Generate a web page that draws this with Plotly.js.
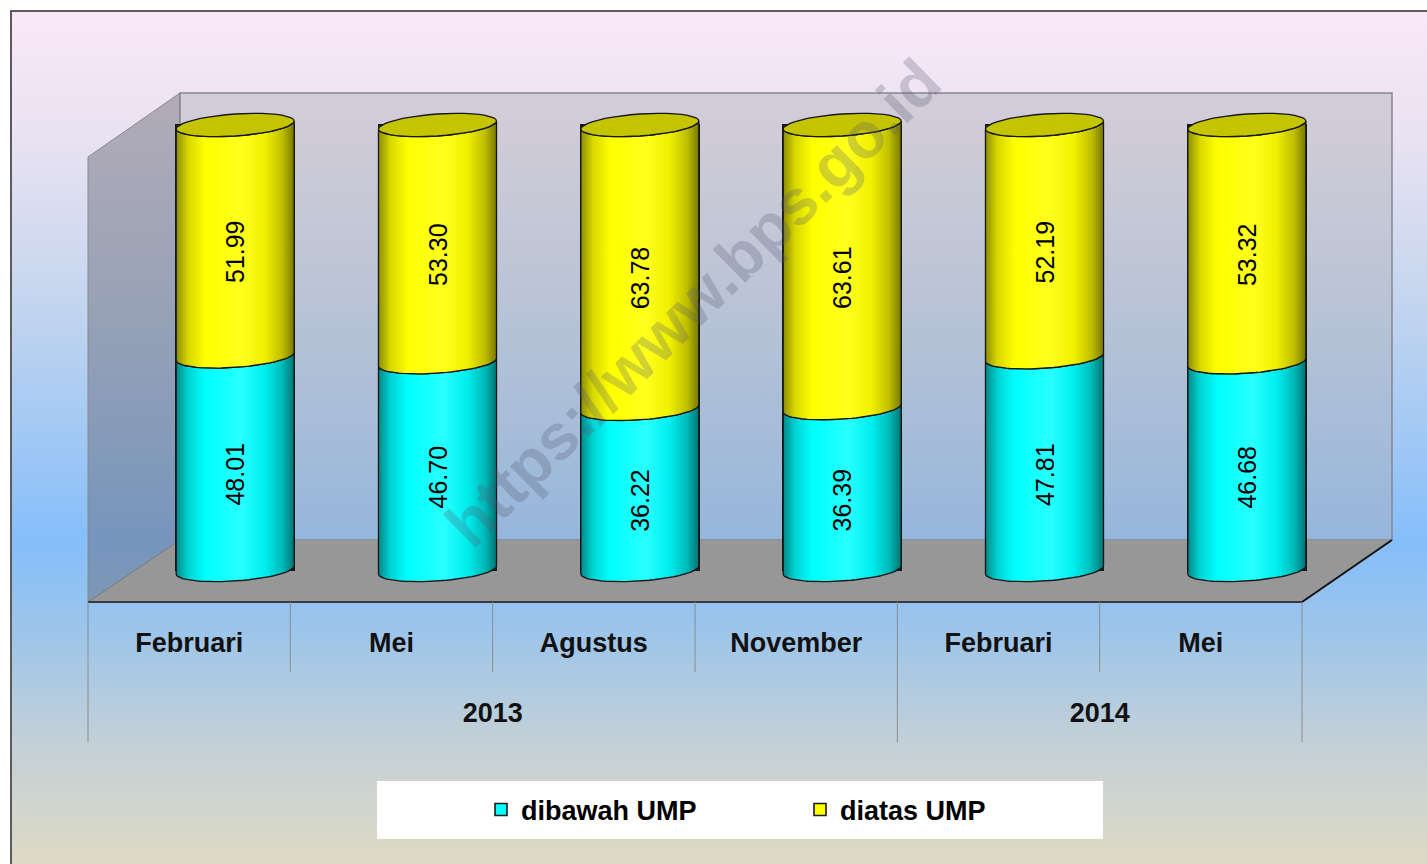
<!DOCTYPE html>
<html><head><meta charset="utf-8">
<script src="https://cdn.plot.ly/plotly-3.0.1.min.js"></script>
<style>
html,body{margin:0;padding:0;background:#fff;width:1427px;height:864px;overflow:hidden}
#bg{position:absolute;left:10px;top:10px;width:1417px;height:854px;border-left:2px solid #5c5c5c;border-top:2px solid #5c5c5c;box-sizing:border-box;
background:linear-gradient(to bottom, rgb(250,232,247) 0px, rgb(232,226,242) 130px, rgb(198,214,238) 280px, rgb(160,200,244) 430px, rgb(133,190,250) 530px, rgb(160,198,232) 630px, rgb(195,208,215) 730px, rgb(222,218,196) 854px);}
#chart{position:absolute;left:0;top:0;width:1427px;height:864px}
</style></head><body>
<div id="bg"></div><div id="chart"></div>
<script>
// ---- data ----
const years = ['2013','2013','2013','2013','2014','2014'];
const months = ['Februari','Mei','Agustus','November','Februari','Mei'];
const dibawahUMP = [48.01, 46.70, 36.22, 36.39, 47.81, 46.68];
const diatasUMP  = [51.99, 53.30, 63.78, 63.61, 52.19, 53.32];
const seriesNames = ['dibawah UMP', 'diatas UMP'];

// ---- styling / geometry helpers ----
const FONT = 'Liberation Sans, Arial, sans-serif';
const W = 1427, H = 864;
const px = v => v / W, py = v => 1 - v / H;
const BAR_HALF = 0.2917, ELL_H = 2.47, ELL_T = 0.9, N = 40;
const seriesColors = ['#00ffff', '#ffff00'];
const gradients = [
  [[0,'rgb(0,135,135)'],[0.1,'rgb(0,210,210)'],[0.25,'rgb(0,255,255)'],[0.55,'rgb(40,255,255)'],[0.75,'rgb(0,238,238)'],[0.9,'rgb(0,185,185)'],[1,'rgb(0,115,115)']],
  [[0,'rgb(140,140,0)'],[0.1,'rgb(215,215,0)'],[0.25,'rgb(255,255,0)'],[0.55,'rgb(255,255,30)'],[0.75,'rgb(240,240,0)'],[0.9,'rgb(190,190,0)'],[1,'rgb(120,120,0)']]
];
const topColor = '#c4c400';

function arc(xc, yc, from, to) {
  const xs = [], ys = [];
  for (let k = 0; k <= N; k++) {
    const th = from + (to - from) * k / N;
    xs.push(xc + BAR_HALF * Math.cos(th));
    ys.push(yc + ELL_H * Math.sin(th) + ELL_T * Math.cos(th));
  }
  return {x: xs, y: ys};
}

const nCat = months.length;
const idx = months.map((_, i) => i);
// year groups
const yearList = [], yearFirst = {}, yearLast = {};
years.forEach((y, i) => { if (!(y in yearFirst)) { yearFirst[y] = i; yearList.push(y); } yearLast[y] = i; });
const yearCenters = yearList.map(y => (yearFirst[y] + yearLast[y]) / 2);

const seriesVals = [dibawahUMP, diatasUMP];
const traces = [];

// front axes (labels only)
traces.push({type:'scatter', mode:'none', x:idx, y:dibawahUMP, xaxis:'x', yaxis:'y', showlegend:false, hoverinfo:'skip'});
traces.push({type:'scatter', mode:'none', x:yearCenters, y:yearCenters, xaxis:'x5', yaxis:'y5', showlegend:false, hoverinfo:'skip'});

// base stacked bars (legend + body)
seriesVals.forEach((vals, s) => {
  traces.push({type:'bar', x:[years, months], y:vals, name:seriesNames[s], xaxis:'x2', yaxis:'y2',
    width: 2*BAR_HALF, marker:{color:seriesColors[s], line:{color:'#1a1a1a', width:1.6}},
    textposition:'none', hoverinfo:'skip'});
});

// cylinder shading overlays
for (let i = 0; i < nCat; i++) {
  let base = 0;
  seriesVals.forEach((vals, s) => {
    const yb = base, yt = base + vals[i];
    const lo = arc(i, yb, Math.PI, 2*Math.PI);
    const up = arc(i, yt, 2*Math.PI, Math.PI);
    traces.push({type:'scatter', mode:'lines', xaxis:'x3', yaxis:'y3', cliponaxis:false,
      x: lo.x.concat(up.x, [lo.x[0]]), y: lo.y.concat(up.y, [lo.y[0]]),
      fill:'toself', fillcolor:seriesColors[s],
      fillgradient:{type:'horizontal', colorscale:gradients[s]},
      line:{color:'#151515', width:1.3}, showlegend:false, hoverinfo:'skip'});
    base = yt;
  });
  const tp = arc(i, base, 0, 2*Math.PI);
  traces.push({type:'scatter', mode:'lines', xaxis:'x3', yaxis:'y3', cliponaxis:false,
    x: tp.x, y: tp.y, fill:'toself', fillcolor:topColor,
    line:{color:'#151515', width:1.3}, showlegend:false, hoverinfo:'skip'});
}

// value labels
seriesVals.forEach((vals, s) => {
  traces.push({type:'bar', x:[years, months], y:vals, xaxis:'x4', yaxis:'y4', width:2*BAR_HALF,
    marker:{color:'rgba(0,0,0,0)', line:{width:0}}, texttemplate:'%{y:.2f}', textposition:'inside',
    insidetextanchor:'middle', textangle:-90, constraintext:'none',
    textfont:{family:FONT, size:25, color:'#000'}, showlegend:false, hoverinfo:'skip'});
});

const P = (pts) => pts.map((p, k) => (k ? 'L' : 'M') + px(p[0]).toFixed(5) + ' ' + py(p[1]).toFixed(5)).join(' ') + ' Z';
const L = (x0,y0,x1,y1,color,width) => ({type:'line', xref:'paper', yref:'paper', x0:px(x0), y0:py(y0), x1:px(x1), y1:py(y1), line:{color, width}, layer:'below'});

const x0d = 88, x1d = 1302;
const idxToPx = v => x0d + (v + 0.5) * (x1d - x0d) / nCat;
const shapes = [
  {type:'path', xref:'paper', yref:'paper', layer:'below', path:P([[88,157],[180,93],[180,540],[88,602]]), fillcolor:'rgba(100,100,112,0.45)', line:{color:'#8a8a8a', width:1}},
  {type:'path', xref:'paper', yref:'paper', layer:'below', path:P([[180,93],[1392,93],[1392,540],[180,540]]), fillcolor:'rgba(172,172,178,0.42)', line:{color:'#878790', width:1.5}},
  {type:'path', xref:'paper', yref:'paper', layer:'below', path:P([[88,602],[180,540],[1392,540],[1302,602]]), fillcolor:'#979797', line:{width:0}},
  L(88,602,180,540,'#7a7a7a',1),
  L(88,602,1302,602,'#3a3a3a',2),
  L(1302,602,1392,540,'#111111',2),
  {type:'rect', xref:'paper', yref:'paper', layer:'below', x0:px(377), x1:px(1103), y0:py(839), y1:py(781), fillcolor:'#ffffff', line:{width:0}}
];
// dividers: month boundaries (short) and year boundaries (long)
for (let i = 0; i < nCat - 1; i++) {
  const xb = idxToPx(i + 0.5);
  shapes.push(L(xb, 602, xb, years[i] === years[i+1] ? 672 : 742, '#8c8c8c', 1));
}
shapes.push(L(idxToPx(-0.5), 602, idxToPx(-0.5), 742, '#8c8c8c', 1));
shapes.push(L(idxToPx(nCat - 0.5), 602, idxToPx(nCat - 0.5), 742, '#8c8c8c', 1));

const tickFont = {family:FONT, size:27, weight:'bold', color:'#111'};
const layout = {
  width:W, height:H, margin:{l:0,r:0,t:0,b:0,pad:0},
  paper_bgcolor:'rgba(0,0,0,0)', plot_bgcolor:'rgba(0,0,0,0)',
  barmode:'stack', hovermode:false, showlegend:true,
  font:{family:FONT, color:'#000'},
  xaxis:{domain:[px(x0d), px(x1d)], range:[-0.5,5.5], anchor:'y', showgrid:false, zeroline:false,
    showline:false, ticks:'', tickmode:'array', tickvals:idx, ticktext:months, ticklabelstandoff:22, tickfont:tickFont},
  yaxis:{domain:[py(602), py(580)], range:[0,1], visible:false, anchor:'x'},
  xaxis5:{domain:[px(x0d), px(x1d)], range:[-0.5,5.5], anchor:'y5', showgrid:false, zeroline:false,
    showline:false, ticks:'', tickmode:'array', tickvals:yearCenters, ticktext:yearList, ticklabelstandoff:22, tickfont:tickFont},
  yaxis5:{domain:[py(672), py(650)], range:[0,1], visible:false, anchor:'x5'},
  xaxis2:{type:'multicategory', domain:[px(134), px(1348)], range:[-0.5,5.5], anchor:'y2', visible:false},
  yaxis2:{domain:[py(596.7), py(98.3)], range:[-6,106], anchor:'x2', visible:false},
  xaxis3:{overlaying:'x2', range:[-0.5,5.5], anchor:'y3', visible:false},
  yaxis3:{overlaying:'y2', range:[-6,106], anchor:'x3', visible:false},
  xaxis4:{type:'multicategory', overlaying:'x2', range:[-0.5,5.5], anchor:'y4', visible:false},
  yaxis4:{overlaying:'y2', range:[-3.5,108.5], anchor:'x4', visible:false},
  legend:{orientation:'h', x:px(481), xanchor:'left', y:py(810), yanchor:'middle', bgcolor:'rgba(0,0,0,0)',
    borderwidth:0, traceorder:'normal', entrywidth:274,
    font:{family:FONT, size:27, weight:'bold', color:'#000'}},
  shapes:shapes,
  annotations:[{text:'https://www.bps.go.id', xref:'paper', yref:'paper', x:px(693), y:py(303), xanchor:'center', yanchor:'middle',
    showarrow:false, textangle:-44.5, font:{family:FONT, size:64, weight:'bold', color:'rgba(85,90,110,0.27)'}}]
};

Plotly.newPlot('chart', traces, layout, {displayModeBar:false, staticPlot:true});
</script>
</body></html>
